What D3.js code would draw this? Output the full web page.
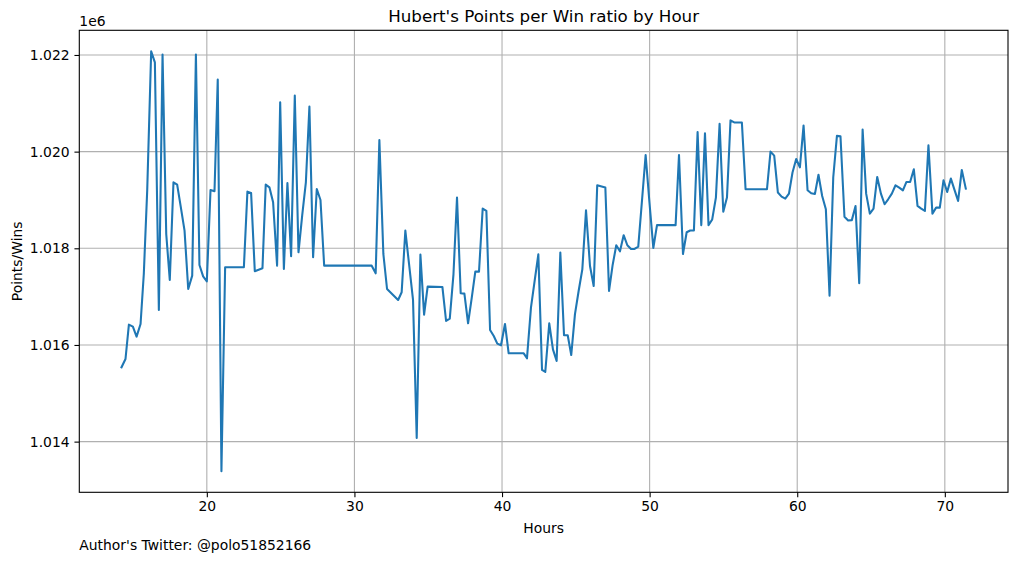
<!DOCTYPE html>
<html>
<head>
<meta charset="utf-8">
<script src="https://cdn.jsdelivr.net/npm/d3@7"></script>
<style>
  body { margin: 0; background: #fff; }
  svg { display: block; font-family: "DejaVu Sans", sans-serif; }
</style>
</head>
<body>
<svg id="chart" width="1019" height="562"></svg>
<script>
// Hours since start
const hours = [
  14.22, 14.49, 14.72, 14.99, 15.24, 15.51, 15.73, 15.96, 16.23, 16.48,
  16.75, 17.00, 17.25, 17.49, 17.74, 17.99, 18.24, 18.49, 18.74, 19.01,
  19.26, 19.50, 19.75, 20.00, 20.25, 20.52, 20.74, 20.99, 21.24, 22.51,
  22.75, 23.00, 23.25, 23.77, 23.99, 24.24, 24.49, 24.76, 24.97, 25.22,
  25.46, 25.71, 25.96, 26.21, 26.46, 26.71, 26.95, 27.20, 27.45, 27.70,
  27.95, 31.17, 31.44, 31.69, 31.96, 32.21, 32.96, 33.20, 33.45, 33.70,
  33.97, 34.22, 34.47, 34.72, 34.96, 35.96, 36.21, 36.46, 36.71, 36.95,
  37.20, 37.45, 37.70, 37.95, 38.19, 38.44, 38.69, 38.94, 39.19, 39.44,
  39.68, 39.93, 40.20, 40.45, 41.47, 41.69, 41.96, 42.21, 42.46, 42.71,
  42.93, 43.20, 43.45, 43.70, 43.95, 44.20, 44.45, 44.69, 44.94, 45.19,
  45.44, 45.69, 45.96, 46.21, 46.45, 46.75, 47.00, 47.25, 47.49, 47.74,
  47.99, 48.24, 48.49, 48.74, 48.98, 49.23, 49.48, 49.73, 49.98, 50.25,
  50.50, 51.76, 51.99, 52.26, 52.51, 52.75, 53.00, 53.25, 53.50, 53.75,
  53.99, 54.24, 54.49, 54.74, 54.99, 55.24, 55.48, 55.73, 56.25, 56.50,
  57.95, 58.19, 58.44, 58.69, 58.94, 59.19, 59.44, 59.68, 59.93, 60.18,
  60.43, 60.70, 60.95, 61.20, 61.44, 61.69, 61.94, 62.19, 62.44, 62.69,
  62.93, 63.20, 63.45, 63.70, 63.95, 64.20, 64.43, 64.67, 64.92, 65.17,
  65.42, 65.67, 65.92, 66.16, 66.41, 66.66, 66.91, 67.16, 67.40, 67.65,
  67.90, 68.15, 68.40, 68.65, 68.89, 69.16, 69.41, 69.66, 69.91, 70.16,
  70.41, 70.65, 70.90, 71.15, 71.42
];

// Points per win at each of those hours
const pointsPerWin = [
  1015538, 1015710, 1016420, 1016379, 1016172, 1016434, 1017469, 1019193, 1022076, 1021848,
  1016724, 1022007, 1018296, 1017345, 1019365, 1019317, 1018848, 1018365, 1017158, 1017434,
  1022007, 1017655, 1017420, 1017317, 1019207, 1019180, 1021490, 1013386, 1017607, 1017607,
  1019172, 1019145, 1017524, 1017586, 1019317, 1019262, 1018952, 1017641, 1021021, 1017572,
  1019352, 1017834, 1021159, 1017917, 1018676, 1019365, 1020931, 1017814, 1019227, 1019000,
  1017641, 1017641, 1017482, 1020241, 1017883, 1017158, 1016931, 1017090, 1018365, 1017676,
  1016931, 1014075, 1017869, 1016627, 1017207, 1017200, 1016496, 1016545, 1017462, 1019048,
  1017069, 1017062, 1016448, 1016979, 1017517, 1017517, 1018821, 1018772, 1016310, 1016186,
  1016027, 1015993, 1016434, 1015827, 1015827, 1015724, 1016772, 1017324, 1017876, 1015483,
  1015441, 1016448, 1015910, 1015669, 1017910, 1016200, 1016200, 1015793, 1016634, 1017117,
  1017565, 1018786, 1017634, 1017221, 1019303, 1019278, 1019257, 1017118, 1017646, 1018063,
  1017938, 1018271, 1018063, 1017986, 1017986, 1018035, 1018979, 1019931, 1018979, 1018007,
  1018479, 1018479, 1019931, 1017882, 1018333, 1018368, 1018368, 1020403, 1018479, 1020382,
  1018479, 1018597, 1019049, 1020576, 1018757, 1019049, 1020646, 1020604, 1020604, 1019222,
  1019222, 1020000, 1019917, 1019153, 1019070, 1019028, 1019132, 1019569, 1019847, 1019674,
  1020542, 1019201, 1019139, 1019125, 1019521, 1019083, 1018806, 1017021, 1019465, 1020326,
  1020319, 1018653, 1018576, 1018583, 1018875, 1017278, 1020455, 1019131, 1018718, 1018821,
  1019476, 1019131, 1018911, 1019014, 1019131, 1019304, 1019255, 1019200, 1019373, 1019373,
  1019635, 1018876, 1018821, 1018773, 1020131, 1018718, 1018842, 1018842, 1019407, 1019166,
  1019442, 1019214, 1018980, 1019621, 1019235
];

const xTicks = [20, 30, 40, 50, 60, 70];
const yTicks = [1014000, 1016000, 1018000, 1020000, 1022000];

const W = 1019, H = 562;
const margin = {left: 79.3, right: 11, top: 30.3, bottom: 69.7};
const pw = W - margin.left - margin.right;
const ph = H - margin.top - margin.bottom;

const data = hours.map((h, i) => ({h: h, v: pointsPerWin[i]}));

// matplotlib style 5% margins round the data
function padded(ext) {
  const d = (ext[1] - ext[0]) * 0.05;
  return [ext[0] - d, ext[1] + d];
}

const x = d3.scaleLinear().domain(padded(d3.extent(hours))).range([0, pw]);
const y = d3.scaleLinear().domain(padded(d3.extent(pointsPerWin))).range([ph, 0]);

const svg = d3.select('#chart');
const g = svg.append('g').attr('transform', `translate(${margin.left},${margin.top})`);

// grid
g.append('g').selectAll('line').data(xTicks).join('line')
  .attr('x1', d => x(d)).attr('x2', d => x(d))
  .attr('y1', 0).attr('y2', ph)
  .attr('stroke', '#b0b0b0').attr('stroke-width', 1.1);
g.append('g').selectAll('line').data(yTicks).join('line')
  .attr('x1', 0).attr('x2', pw)
  .attr('y1', d => y(d)).attr('y2', d => y(d))
  .attr('stroke', '#b0b0b0').attr('stroke-width', 1.1);

// the series
const line = d3.line().x(d => x(d.h)).y(d => y(d.v));
g.append('path').datum(data)
  .attr('d', line)
  .attr('fill', 'none')
  .attr('stroke', '#1f77b4')
  .attr('stroke-width', 2.08)
  .attr('stroke-linejoin', 'round')
  .attr('stroke-linecap', 'square');

// axes
const xAxis = g.append('g').attr('transform', `translate(0,${ph})`)
  .call(d3.axisBottom(x).tickValues(xTicks).tickSize(4.86).tickPadding(4.2).tickSizeOuter(0));
const yAxis = g.append('g')
  .call(d3.axisLeft(y).tickValues(yTicks).tickSize(4.86).tickPadding(4.86).tickSizeOuter(0)
    .tickFormat(d => (d / 1e6).toFixed(3)));

[xAxis, yAxis].forEach(a => {
  a.select('.domain').remove();
  a.selectAll('.tick line').attr('stroke', '#000').attr('stroke-width', 1.1);
  a.selectAll('.tick text').attr('fill', '#000')
    .style('font-size', '13.9px').style('font-family', '"DejaVu Sans", sans-serif');
});

// frame
g.append('rect').attr('width', pw).attr('height', ph)
  .attr('fill', 'none').attr('stroke', '#000').attr('stroke-width', 1.1);

// texts
svg.append('text')
  .attr('x', margin.left + pw / 2).attr('y', 22)
  .attr('text-anchor', 'middle').style('font-size', '16.7px')
  .text("Hubert's Points per Win ratio by Hour");

svg.append('text')
  .attr('x', margin.left + pw / 2).attr('y', 533)
  .attr('text-anchor', 'middle').style('font-size', '13.9px')
  .text('Hours');

svg.append('text')
  .attr('transform', `translate(22,${margin.top + ph / 2}) rotate(-90)`)
  .attr('text-anchor', 'middle').style('font-size', '13.9px')
  .text('Points/Wins');

svg.append('text')
  .attr('x', margin.left).attr('y', 26)
  .style('font-size', '13.9px')
  .text('1e6');

svg.append('text')
  .attr('x', margin.left).attr('y', 550)
  .style('font-size', '13.9px')
  .text("Author's Twitter: @polo51852166");
</script>
</body>
</html>
